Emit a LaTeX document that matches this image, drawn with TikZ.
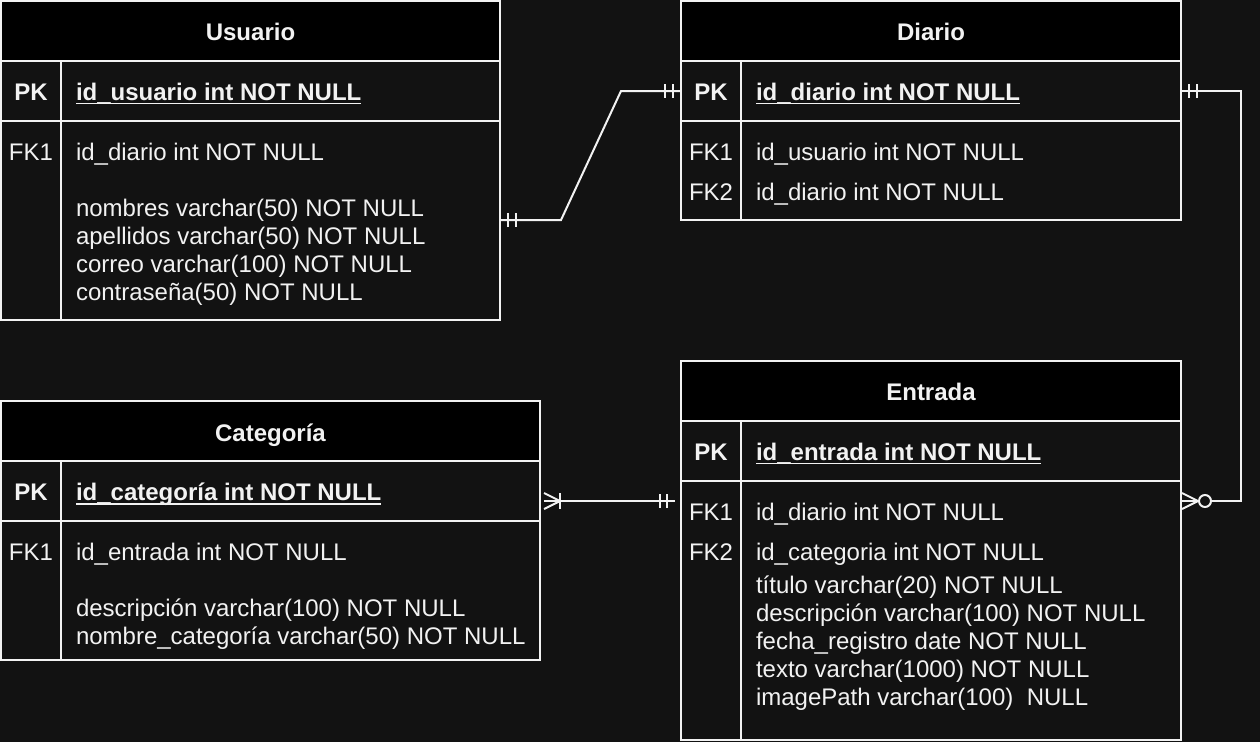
\documentclass[tikz,border=0pt]{standalone}
\usepackage{fontspec}
\setmainfont{Liberation Sans}
\definecolor{bg}{HTML}{121212}
\definecolor{fg}{HTML}{F2F2F2}
\begin{document}
\begin{tikzpicture}[x=1pt,y=-1pt,
  tbl/.style={fill=bg,inner sep=0pt,outer sep=0pt,anchor=north west},
  border/.style={draw=fg,line width=2pt},
  txtbase/.style={text=fg,inner sep=0pt,outer sep=0pt,font=\fontsize{24}{28}\selectfont},
  ertitle/.style={txtbase,font=\fontsize{24}{28}\selectfont\bfseries,anchor=base},
  erkey/.style={txtbase,anchor=base},
  erpkkey/.style={erkey,font=\fontsize{24}{28}\selectfont\bfseries},
  erattr/.style={txtbase,anchor=base west},
  erpkattr/.style={erattr,font=\fontsize{24}{28}\selectfont\bfseries},
  uline/.style={draw=fg,line width=1.8pt},
  conn/.style={draw=fg,line width=2pt},
]
\fill[bg] (0,0) rectangle (1260,742);
\useasboundingbox (0,0) rectangle (1260,742);

% ---------- Usuario ----------
\node[tbl,minimum width=499pt,minimum height=319pt] (usuario) at (1,1) {};
\fill[black] (1,1) rectangle (500,61);
\draw[border] (1,61) -- (500,61) (1,121) -- (500,121) (61,61) -- (61,320);
\draw[border] (usuario.north west) rectangle (usuario.south east);
\node[ertitle] (usuario-t) at (250.5,40) {Usuario};
\node[erpkkey] (usuario-pk) at (31,100) {PK};
\node[erpkattr] (usuario-pka) at (76,100) {id\_usuario int NOT NULL};
\draw[uline] ([yshift=-3.5pt]usuario-pka.base west) -- ([yshift=-3.5pt]usuario-pka.base east);
\node[erkey] (usuario-fk1) at (31,160) {FK1};
\node[erattr] (usuario-a1) at (76,160) {id\_diario int NOT NULL};
\node[erattr] (usuario-a2) at (76,216) {nombres varchar(50) NOT NULL};
\node[erattr] (usuario-a3) at (76,244) {apellidos varchar(50) NOT NULL};
\node[erattr] (usuario-a4) at (76,272) {correo varchar(100) NOT NULL};
\node[erattr] (usuario-a5) at (76,300) {contraseña(50) NOT NULL};

% ---------- Diario ----------
\node[tbl,minimum width=500pt,minimum height=219pt] (diario) at (681,1) {};
\fill[black] (681,1) rectangle (1181,61);
\draw[border] (681,61) -- (1181,61) (681,121) -- (1181,121) (741,61) -- (741,220);
\draw[border] (diario.north west) rectangle (diario.south east);
\node[ertitle] (diario-t) at (931,40) {Diario};
\node[erpkkey] (diario-pk) at (711,100) {PK};
\node[erpkattr] (diario-pka) at (756,100) {id\_diario int NOT NULL};
\draw[uline] ([yshift=-3.5pt]diario-pka.base west) -- ([yshift=-3.5pt]diario-pka.base east);
\node[erkey] (diario-fk1) at (711,160) {FK1};
\node[erattr] (diario-a1) at (756,160) {id\_usuario int NOT NULL};
\node[erkey] (diario-fk2) at (711,200) {FK2};
\node[erattr] (diario-a2) at (756,200) {id\_diario int NOT NULL};

% ---------- Categoria ----------
\node[tbl,minimum width=539pt,minimum height=259pt] (categoria) at (1,401) {};
\fill[black] (1,401) rectangle (540,461);
\draw[border] (1,461) -- (540,461) (1,521) -- (540,521) (61,461) -- (61,660);
\draw[border] (categoria.north west) rectangle (categoria.south east);
\node[ertitle] (categoria-t) at (270.5,441) {Categoría};
\node[erpkkey] (categoria-pk) at (31,500.5) {PK};
\node[erpkattr] (categoria-pka) at (76,500.5) {id\_categoría int NOT NULL};
\draw[uline] ([yshift=-3.5pt]categoria-pka.base west) -- ([yshift=-3.5pt]categoria-pka.base east);
\node[erkey] (categoria-fk1) at (31,560.5) {FK1};
\node[erattr] (categoria-a1) at (76,560.5) {id\_entrada int NOT NULL};
\node[erattr] (categoria-a2) at (76,616) {descripción varchar(100) NOT NULL};
\node[erattr] (categoria-a3) at (76,644) {nombre\_categoría varchar(50) NOT NULL};

% ---------- Entrada ----------
\node[tbl,minimum width=500pt,minimum height=379pt] (entrada) at (681,361) {};
\fill[black] (681,361) rectangle (1181,421);
\draw[border] (681,421) -- (1181,421) (681,481) -- (1181,481) (741,421) -- (741,740);
\draw[border] (entrada.north west) rectangle (entrada.south east);
\node[ertitle] (entrada-t) at (931,400) {Entrada};
\node[erpkkey] (entrada-pk) at (711,460) {PK};
\node[erpkattr] (entrada-pka) at (756,460) {id\_entrada int NOT NULL};
\draw[uline] ([yshift=-3.5pt]entrada-pka.base west) -- ([yshift=-3.5pt]entrada-pka.base east);
\node[erkey] (entrada-fk1) at (711,520) {FK1};
\node[erattr] (entrada-a1) at (756,520) {id\_diario int NOT NULL};
\node[erkey] (entrada-fk2) at (711,560) {FK2};
\node[erattr] (entrada-a2) at (756,560) {id\_categoria int NOT NULL};
\node[erattr] (entrada-a3) at (756,593) {título varchar(20) NOT NULL};
\node[erattr] (entrada-a4) at (756,621) {descripción varchar(100) NOT NULL};
\node[erattr] (entrada-a5) at (756,649) {fecha\_registro date NOT NULL};
\node[erattr] (entrada-a6) at (756,677) {texto varchar(1000) NOT NULL};
\node[erattr] (entrada-a7) at (756,705) {imagePath varchar(100)\ \ NULL};

% ---------- Connectors ----------
% Usuario -- Diario (one and only one both ends)
\coordinate (ud-s) at (500,220);
\coordinate (ud-e) at (681,91);
\draw[conn] (ud-s) -- (561,220) -- (621,91) -- (ud-e);
\draw[conn] (508,213) -- (508,227) (516,213) -- (516,227);
\draw[conn] (665,84) -- (665,98) (673,84) -- (673,98);

% Diario -- Entrada (one to zero-or-many)
\coordinate (de-s) at (1181,91);
\coordinate (de-e) at (1181,501);
\draw[conn] (de-s) -- (1241,91) -- (1241,501) -- (1211,501);
\draw[conn] (de-e) -- (1199,501);
\draw[conn] (1189,84) -- (1189,98) (1197,84) -- (1197,98);
\draw[conn] (1182,493) -- (1198,501) -- (1182,509);
\draw[conn,fill=bg] (1205,501) circle[radius=6pt];

% Categoria -- Entrada (one-or-many to one)
\coordinate (ce-s) at (540,501);
\coordinate (ce-e) at (681,501);
\draw[conn,shorten <=4pt,shorten >=6pt] (ce-s) -- (ce-e);
\draw[conn] (544,493) -- (560,501) -- (544,509);
\draw[conn] (560,493) -- (560,509);
\draw[conn] (660,494) -- (660,508) (667,494) -- (667,508);
\end{tikzpicture}
\end{document}
